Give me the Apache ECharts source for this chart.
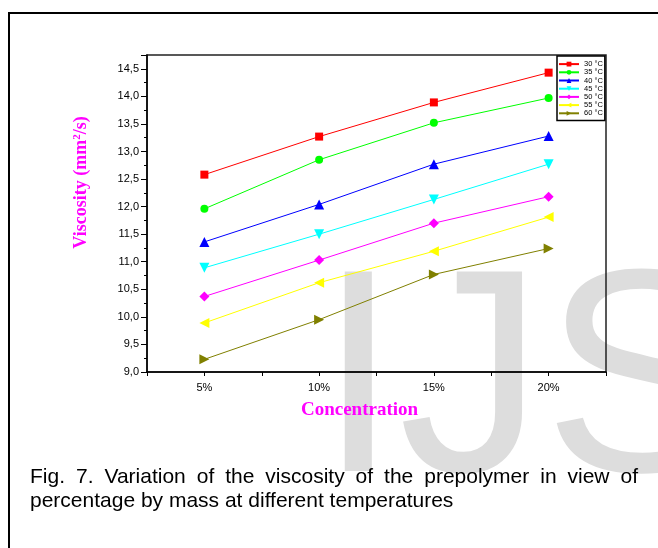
<!DOCTYPE html>
<html>
<head>
<meta charset="utf-8">
<script src="https://cdn.jsdelivr.net/npm/echarts@6/dist/echarts.min.js"></script>
<style>
  html, body { margin: 0; padding: 0; background: #fff; }
  #main { width: 658px; height: 548px; }
</style>
</head>
<body>
<div id="main"></div>
<script>
var concentrations = [5, 10, 15, 20];
var temperatures = ['30 °C', '35 °C', '40 °C', '45 °C', '50 °C', '55 °C', '60 °C'];
var v30 = [12.58, 13.27, 13.89, 14.43];
var v35 = [11.96, 12.85, 13.52, 13.97];
var v40 = [11.36, 12.04, 12.77, 13.28];
var v45 = [10.89, 11.50, 12.13, 12.77];
var v50 = [10.37, 11.03, 11.70, 12.18];
var v55 = [9.89, 10.62, 11.19, 11.81];
var v60 = [9.23, 9.95, 10.77, 11.24];
var captionLine1 = 'Fig. 7. Variation of the viscosity of the prepolymer in view of';
var captionLine2 = 'percentage by mass at different temperatures';

var values = [v30, v35, v40, v45, v50, v55, v60];
var colors = ['#ff0000', '#00ff00', '#0000ff', '#00ffff', '#ff00ff', '#ffff00', '#808000'];
var symbols = ['rect', 'circle', 'triangle', 'triangle', 'diamond', 'triangle', 'triangle'];
var rotates = [0, 0, 0, 180, 0, 90, -90];
var sizes = [8, 8, 10, 10, 10, 10, 10];

var myChart = echarts.init(document.getElementById('main'));

// justify first caption line like the source figure
var capFont = '21px "Liberation Sans", Arial, sans-serif';
var ctx = document.createElement('canvas').getContext('2d');
ctx.font = capFont;
var words = captionLine1.split(' ');
var widths = words.map(function (w) { return ctx.measureText(w).width; });
var total = widths.reduce(function (a, b) { return a + b; }, 0);
var left = 30, right = 638;
var gap = (right - left - total) / (words.length - 1);
var graphics = [
  { type: 'text', z: -10, style: { text: 'IJS', x: 318, y: 391, verticalAlign: 'middle',
    font: '290px "Liberation Sans", Arial, sans-serif', fill: '#dddddd' } },
  { type: 'line', shape: { x1: 8, y1: 13, x2: 658, y2: 13 }, style: { stroke: '#000', lineWidth: 2 } },
  { type: 'line', shape: { x1: 9, y1: 12, x2: 9, y2: 548 }, style: { stroke: '#000', lineWidth: 2 } },
  { type: 'text', style: { text: captionLine2, x: left, y: 501, verticalAlign: 'middle', font: capFont, fill: '#000' } }
];
var cx = left;
words.forEach(function (w, i) {
  graphics.push({ type: 'text', style: { text: w, x: cx, y: 477, verticalAlign: 'middle', font: capFont, fill: '#000' } });
  cx += widths[i] + gap;
});

var series = temperatures.map(function (t, i) {
  return {
    name: t,
    type: 'line',
    data: concentrations.map(function (c, j) { return [c, values[i][j]]; }),
    symbol: symbols[i],
    symbolRotate: rotates[i],
    symbolSize: sizes[i],
    showAllSymbol: true,
    lineStyle: { color: colors[i], width: 1 },
    itemStyle: { color: colors[i] },
    emphasis: { disabled: true }
  };
});

option = {
  backgroundColor: '#fff',
  animation: false,
  graphic: graphics,
  grid: {
    left: 147,
    right: 52,
    top: 55,
    bottom: 176,
    show: true,
    borderColor: '#222',
    borderWidth: 1.5
  },
  legend: {
    orient: 'vertical',
    left: 557,
    top: 56,
    padding: [4, 2, 3, 1],
    itemGap: 0,
    itemWidth: 20,
    itemHeight: 6,
    borderColor: '#000',
    borderWidth: 1.5,
    textStyle: { fontSize: 7.5, lineHeight: 8.2, color: '#000', fontFamily: 'Liberation Sans, Arial' },
    data: temperatures
  },
  xAxis: {
    type: 'value',
    min: 2.5,
    max: 22.5,
    interval: 2.5,
    name: 'Concentration',
    nameLocation: 'middle',
    nameGap: 29,
    nameTextStyle: { color: '#ff00ff', fontFamily: 'Liberation Serif, Times New Roman', fontWeight: 'bold', fontSize: 19, padding: [0, 34, 0, 0] },
    axisLine: { lineStyle: { color: '#000', width: 1.5 } },
    axisTick: { inside: false, length: 4, lineStyle: { color: '#000' } },
    axisLabel: {
      color: '#000', fontSize: 11, fontFamily: 'Liberation Sans, Arial', margin: 10,
      formatter: function (v) { return (v % 5 === 0) ? v + '%' : ''; }
    },
    splitLine: { show: false }
  },
  yAxis: {
    type: 'value',
    min: 9,
    max: 14.75,
    interval: 0.5,
    name: '{a|Viscosity (mm}{s|2}{a|/s)}',
    nameLocation: 'middle',
    nameGap: 56,
    nameTextStyle: {
      padding: [0, 0, 0, 62],
      rich: {
        a: { color: '#ff00ff', fontFamily: 'Liberation Serif, Times New Roman', fontWeight: 'bold', fontSize: 18 },
        s: { color: '#ff00ff', fontFamily: 'Liberation Serif, Times New Roman', fontWeight: 'bold', fontSize: 11, verticalAlign: 'top', padding: [0, 0, 8, 0] }
      }
    },
    axisLine: { show: true, lineStyle: { color: '#000', width: 1.5 } },
    axisTick: { show: true, length: 6, lineStyle: { color: '#000' } },
    minorTick: { show: true, splitNumber: 2, length: 3, lineStyle: { color: '#000' } },
    axisLabel: {
      color: '#000', fontSize: 11, fontFamily: 'Liberation Sans, Arial', margin: 8,
      formatter: function (v) {
        if (Math.abs(v * 2 - Math.round(v * 2)) > 1e-6) return '';
        return v.toFixed(1).replace('.', ',');
      }
    },
    splitLine: { show: false }
  },
  series: series
};

myChart.setOption(option);
window.onresize = () => this.myChart.resize();
</script>
</body>
</html>
